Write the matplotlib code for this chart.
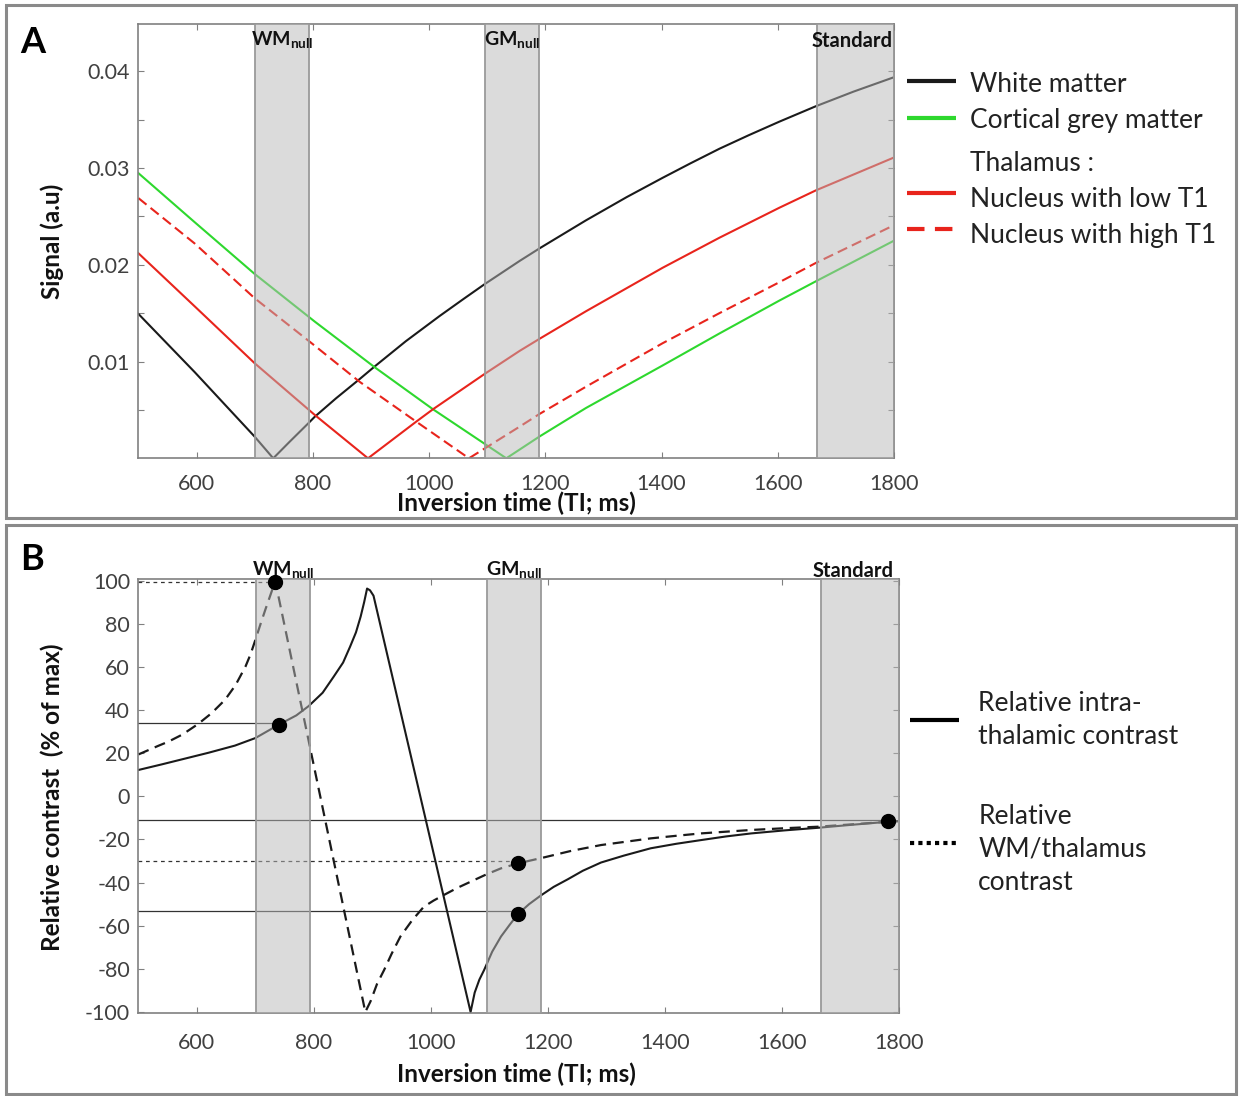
import matplotlib
matplotlib.use('Agg')
import matplotlib.pyplot as plt
from matplotlib.lines import Line2D
from matplotlib.patches import Rectangle
import matplotlib.transforms as mtransforms

plt.rcParams['font.family'] = ['Lato', 'DejaVu Sans']
plt.rcParams['axes.unicode_minus'] = False
plt.rcParams['mathtext.fontset'] = 'custom'
plt.rcParams['mathtext.bf'] = 'Lato:bold'
plt.rcParams['mathtext.rm'] = 'Lato'

# ---------------- data ----------------
# Panel A: signal vs inversion time
wm_ti = [500, 597, 700, 732, 760, 792, 803.5, 840, 880.8, 906.6, 960, 1018, 1060, 1095.6, 1155.8, 1190, 1270, 1340, 1402, 1450, 1499.5, 1550, 1602.6, 1665.6, 1730, 1800]
wm_sig = [0.01493, 0.0089, 0.00224, 0.0, 0.0017, 0.0036, 0.0043, 0.0062, 0.0082, 0.0095, 0.0121, 0.0147, 0.0165, 0.0180, 0.0204, 0.0217, 0.0246, 0.0270, 0.0290, 0.0305, 0.0320, 0.0334, 0.0348, 0.0364, 0.0379, 0.0394]

gm_ti = [500, 597, 700, 803.5, 906.6, 1006.8, 1133, 1155.8, 1190, 1270, 1402, 1499.5, 1602.6, 1665.6, 1800]
gm_sig = [0.02948, 0.0244, 0.01906, 0.01413, 0.00941, 0.00507, 0.0, 0.0009, 0.00225, 0.0052, 0.0096, 0.0129, 0.0163, 0.0183, 0.0225]

low_ti = [500, 597, 700, 803.5, 895, 978, 1006.8, 1095.6, 1155.8, 1190, 1270, 1402, 1499.5, 1602.6, 1665.6, 1800]
low_sig = [0.0212, 0.0157, 0.00983, 0.00448, 0.0, 0.00379, 0.00507, 0.00872, 0.0111, 0.01235, 0.0152, 0.0197, 0.0228, 0.0259, 0.0277, 0.0311]

high_ti = [500, 597, 700, 798, 880.8, 978, 1068.7, 1155.8, 1190, 1270, 1402, 1499.5, 1602.6, 1665.6, 1800]
high_sig = [0.0269, 0.0222, 0.01655, 0.0119, 0.0079, 0.00379, 0.0, 0.00327, 0.00458, 0.0074, 0.0119, 0.0150, 0.0182, 0.0202, 0.0241]

legend_A = ['White matter', 'Cortical grey matter', 'Thalamus :', 'Nucleus with low T1', 'Nucleus with high T1']

# Panel B: relative contrast (% of max)
intra_ti = [500, 540, 580, 620, 665, 700, 740, 770, 791, 815, 834, 850, 862, 872, 880, 886, 891, 896, 902,
            988, 1022, 1068, 1075, 1083, 1091, 1105, 1120, 1135, 1149, 1168, 1188, 1210, 1234, 1260, 1291,
            1330, 1376, 1420, 1462, 1505, 1548, 1605, 1662, 1720, 1782, 1800]
intra_val = [12.2, 14.8, 17.5, 20.2, 23.5, 27.0, 33.2, 37.5, 41.8, 48.0, 55.5, 62.0, 69.4, 76.0, 83.3, 90.0, 96.3, 95.5, 93.0,
             -7.0, -46.5, -100.0, -91.0, -85.0, -80.6, -72.0, -65.0, -59.5, -54.6, -50.0, -46.0, -42.0, -38.5, -34.5, -30.7,
             -27.5, -24.1, -22.0, -20.3, -18.6, -17.2, -15.8, -14.6, -13.2, -11.8, -11.5]

wmth_ti = [500, 534, 551, 575, 602, 625, 648, 666, 683, 692, 700, 709, 717, 726, 734,
           888, 897, 908, 920, 933, 948, 968, 988, 1005, 1022, 1045, 1068, 1095, 1120, 1149, 1194, 1240, 1291,
           1335, 1376, 1420, 1462, 1505, 1548, 1605, 1662, 1720, 1782, 1800]
wmth_val = [19.4, 23.4, 25.3, 28.6, 33.5, 38.5, 44.7, 51.5, 60.1, 66.0, 72.5, 80.0, 86.5, 93.5, 99.8,
            -100.0, -95.0, -87.0, -80.6, -73.0, -65.0, -57.5, -51.2, -48.3, -45.8, -42.5, -39.6, -36.2, -33.4, -31.1, -28.3, -25.3, -22.6,
            -21.0, -19.5, -18.3, -17.2, -16.4, -15.6, -14.8, -14.1, -13.0, -11.8, -11.5]

# highlighted points and their reference levels
solid_pts_ti = [740, 1149, 1782]
solid_pts_val = [33.2, -54.6, -11.5]
solid_ref_val = [34.0, -53.2, -11.0]
dash_pts_ti = [734, 1149]
dash_pts_val = [99.5, -31.1]
dash_ref_val = [99.5, -30.0]

legend_B = ['Relative intra-\nthalamic contrast', 'Relative\nWM/thalamus\ncontrast']

# TI windows
bands = [(701, 794), (1096, 1189), (1667, 1800)]
band_names = [r'$\mathbf{WM_{null}}$', r'$\mathbf{GM_{null}}$', 'Standard']

xticks = [600, 800, 1000, 1200, 1400, 1600, 1800]
yticks_A = [0.01, 0.02, 0.03, 0.04]
yticks_A_minor = [0.005, 0.015, 0.025, 0.035]
yticks_B = list(range(-100, 101, 20))

# ---------------- figure ----------------
W, H = 1241, 1096
fig = plt.figure(figsize=(W / 100, H / 100), dpi=100)


def fx(X):
    return X / W


def fy(Y):
    return 1 - Y / H


axA = fig.add_axes([fx(138.4), fy(458.3), (894 - 138.4) / W, (458.3 - 24) / H])
axB = fig.add_axes([fx(138.4), fy(1013.3), (898.7 - 138.4) / W, (1013.3 - 579.3) / H])

GREEN = '#2ed82e'
RED = '#e8241c'
BLACK = '#1a1a1a'
TICKC = '#404040'
SPINEC = '#808080'

for ax, xpad in ((axA, 11), (axB, 14)):
    ax.set_xlim(500, 1800)
    ax.set_xticks(xticks)
    ax.set_xticklabels([str(t) for t in xticks])
    for s in ax.spines.values():
        s.set_color(SPINEC)
        s.set_linewidth(1.2)
    ax.tick_params(which='both', direction='in', length=4, width=0.8, color=SPINEC,
                   top=True, right=True, labelsize=15.5, labelcolor=TICKC)
    ax.tick_params(axis='x', pad=xpad)
    ax.tick_params(axis='y', pad=6)
    for (a, b) in bands:
        ax.axvspan(a, b, facecolor=(0.72, 0.72, 0.72), alpha=0.5, edgecolor='none', zorder=3)
        ax.axvline(a, color='#9a9a9a', lw=1.3, zorder=3.5)
        ax.axvline(b, color='#9a9a9a', lw=1.3, zorder=3.5)

# Panel A
axA.set_ylim(0, 0.0449)
axA.set_yticks(yticks_A)
axA.set_yticklabels(['%.2f' % v for v in yticks_A])
axA.set_yticks(yticks_A_minor, minor=True)
axA.plot(wm_ti, wm_sig, color=BLACK, lw=1.5, zorder=2)
axA.plot(gm_ti, gm_sig, color=GREEN, lw=1.5, zorder=2)
axA.plot(low_ti, low_sig, color=RED, lw=1.5, zorder=2)
axA.plot(high_ti, high_sig, color=RED, lw=1.5, ls=(0, (5, 2.5)), zorder=2)

# Panel B
axB.set_ylim(-100.6, 100.6)
axB.set_yticks(yticks_B)
axB.set_yticklabels([str(v) for v in yticks_B])
for v, t in zip(solid_ref_val, solid_pts_ti):
    axB.plot([500, t], [v, v], color='#333333', lw=0.9, zorder=2)
for v, t in zip(dash_ref_val, dash_pts_ti):
    axB.plot([500, t], [v, v], color='#333333', lw=0.9, ls=(0, (3, 3)), zorder=2)
axB.plot(intra_ti, intra_val, color=BLACK, lw=1.5, zorder=2.2)
axB.plot(wmth_ti, wmth_val, color=BLACK, lw=1.6, ls=(0, (5, 3)), zorder=2.2)
axB.plot(solid_pts_ti, solid_pts_val, 'o', color='black', ms=10, zorder=5, clip_on=False)
axB.plot(dash_pts_ti, dash_pts_val, 'o', color='black', ms=10, zorder=5, clip_on=False)

# band labels
for ax, ybase, ystd, xstd in ((axA, 0.9517, 0.9477, 1798), (axB, 1.010, 1.0057, 1792)):
    tr = mtransforms.blended_transform_factory(ax.transData, ax.transAxes)
    for (a, b), name in zip(bands, band_names):
        if name == 'Standard':
            ax.text(xstd, ystd, name, transform=tr, ha='right', va='baseline',
                    fontsize=14.5, fontweight='bold', color='#111111', zorder=6)
        else:
            ax.text((a + b) / 2, ybase, name, transform=tr, ha='center', va='baseline',
                    fontsize=14, color='#111111', zorder=6)

# axis labels
LABFS = 17.5
fig.text(fx(52), fy(241), 'Signal (a.u)', rotation=90, ha='center', va='center',
         fontsize=LABFS, fontweight='bold', color='#111111')
fig.text(fx(516.5), fy(503), 'Inversion time (TI; ms)', ha='center', va='center',
         fontsize=LABFS, fontweight='bold', color='#111111')
fig.text(fx(52), fy(797), 'Relative contrast  (% of max)', rotation=90, ha='center', va='center',
         fontsize=LABFS, fontweight='bold', color='#111111')
fig.text(fx(516.5), fy(1074), 'Inversion time (TI; ms)', ha='center', va='center',
         fontsize=LABFS, fontweight='bold', color='#111111')

# panel letters
fig.text(fx(20), fy(53), 'A', fontsize=26, fontweight='bold', ha='left', va='baseline')
fig.text(fx(20), fy(569.6), 'B', fontsize=26, fontweight='bold', ha='left', va='baseline')

# legend A
handle_y = [81, 117.7, None, 193.3, 229.3]
text_y = [84, 120.7, 163.3, 199.3, 235]
styles = [(BLACK, '-'), (GREEN, '-'), None, (RED, '-'), (RED, (0, (4.2, 2.5)))]
for hy, ty, lab, st in zip(handle_y, text_y, legend_A, styles):
    if st is not None:
        fig.add_artist(Line2D([fx(907.4), fx(956.4)], [fy(hy), fy(hy)], color=st[0], ls=st[1],
                              lw=3, solid_capstyle='butt', dash_capstyle='butt'))
    fig.text(fx(969.5), fy(ty), lab, fontsize=19, color='#222222', ha='left', va='center')

# legend B
fig.add_artist(Line2D([fx(910), fx(959)], [fy(720), fy(720)], color='black', lw=3,
                      solid_capstyle='butt'))
fig.add_artist(Line2D([fx(910), fx(959)], [fy(842.5), fy(842.5)], color='black', lw=3,
                      ls=(0, (1, 1)), dash_capstyle='butt'))
fig.text(fx(978.3), fy(720), legend_B[0], fontsize=19, color='#222222', ha='left', va='center',
         linespacing=1.4)
fig.text(fx(978.3), fy(849.5), legend_B[1], fontsize=19, color='#222222', ha='left', va='center',
         linespacing=1.4)

# panel frames
for (x0, y0, x1, y1) in ((6, 5, 1236, 518), (6, 525, 1236, 1094)):
    fig.add_artist(Rectangle((fx(x0), fy(y1)), fx(x1) - fx(x0), fy(y0) - fy(y1),
                             transform=fig.transFigure, fill=False, edgecolor='#8a8a8a', lw=2.2))

fig.savefig('out.png', dpi=100)
